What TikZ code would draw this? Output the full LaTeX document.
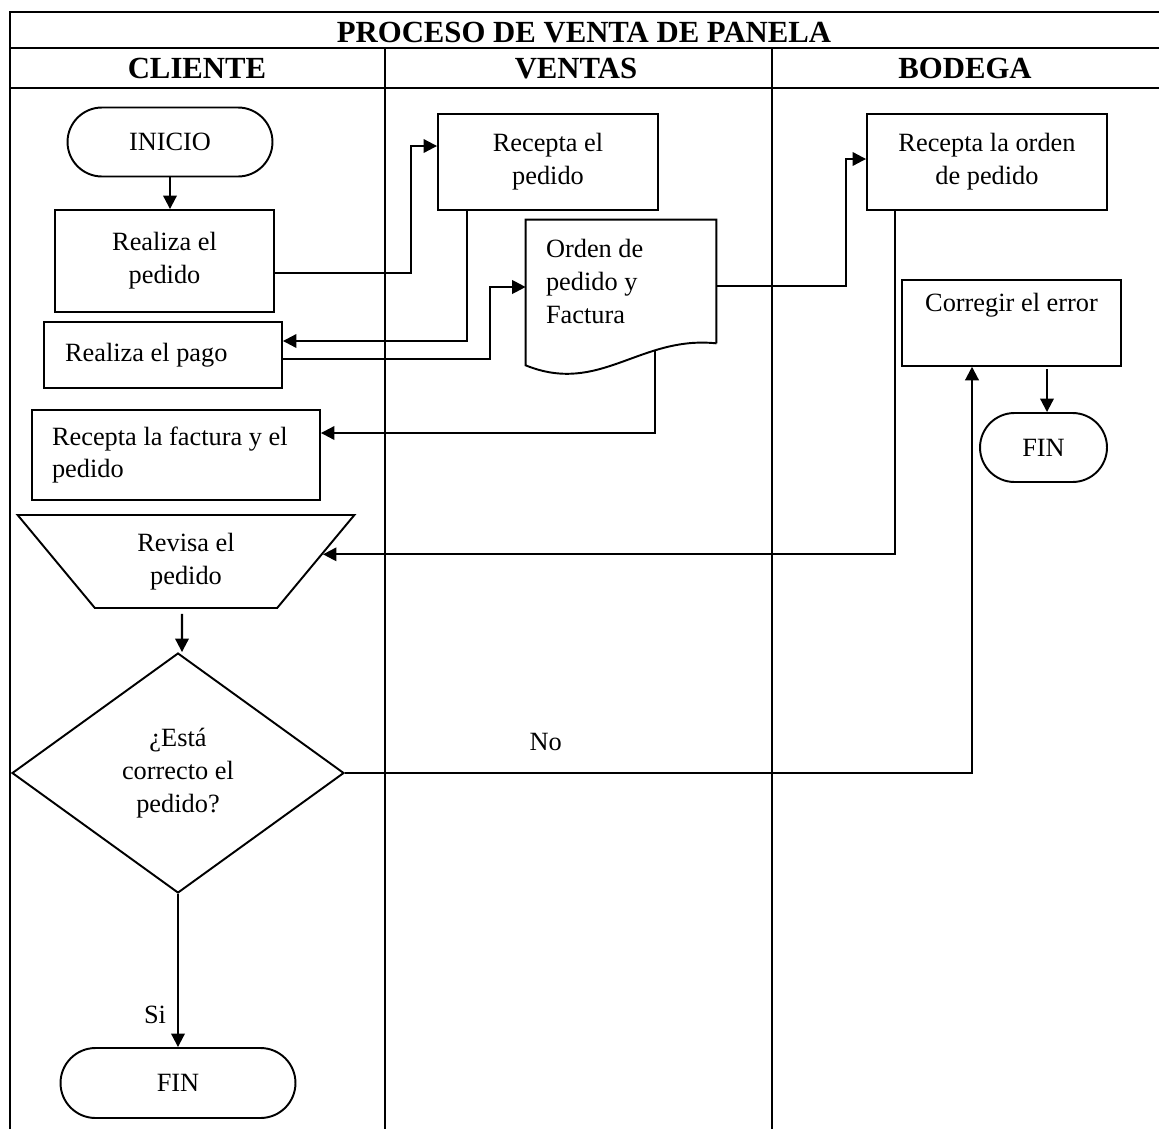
\documentclass[tikz,border=0pt]{standalone}
\usepackage{fontspec}
\setmainfont{Liberation Serif}
\usepackage{tikz}
\usetikzlibrary{shapes.geometric, shapes.misc, arrows.meta, calc}

\begin{document}
\begin{tikzpicture}[x=0.02cm, y=-0.02cm, font=\fontsize{15}{18.7}\selectfont,
    frame/.style={line width=1.3pt},
    lane/.style={line width=0.8pt},
    head/.style={anchor=base, font=\fontsize{17.5}{20}\selectfont\bfseries},
    term/.style={draw, line width=1.1pt, rounded rectangle, minimum height=1.38cm, inner sep=0pt},
    proc/.style={draw, line width=1.1pt, align=center, inner sep=0pt},
    procl/.style={draw, line width=1.1pt, align=flush left, inner xsep=0.4cm, inner ysep=0pt},
    doctext/.style={align=flush left, inner xsep=0.4cm, inner ysep=0pt, text width=3.0cm,
        minimum width=3.8cm, minimum height=2.46cm},
    manual/.style={draw, line width=1.1pt, trapezium, trapezium angle=54, shape border rotate=180,
        trapezium stretches=true, minimum width=6.74cm, minimum height=1.86cm, align=center, inner sep=0pt},
    decision/.style={draw, line width=1.1pt, diamond, minimum width=6.64cm, minimum height=4.8cm,
        align=center, inner sep=0pt},
    arrow/.style={-{Triangle[length=0.27cm,width=0.27cm]}, line width=1.2pt},
    link/.style={line width=1.2pt}
]
\useasboundingbox (0,0) rectangle (1159,1129);
% table
\draw[frame] (10,1129) -- (10,12) -- (1159,12);
\draw[frame] (10,48) -- (1159,48);
\draw[frame] (10,88) -- (1159,88);
\draw[lane] (385,48) -- (385,1129);
\draw[lane] (772,48) -- (772,1129);
\node[head] (title) at (584,42) {PROCESO DE VENTA DE PANELA};
\node[head] (hcli) at (197,78) {CLIENTE};
\node[head] (hven) at (576,78) {VENTAS};
\node[head] (hbod) at (965,78) {BODEGA};
% cliente
\node[term, minimum width=4.1cm] (ini) at (170,142) {INICIO};
\node[proc, minimum width=4.38cm, minimum height=2.04cm] (rp) at (164.5,261) {Realiza el\\pedido};
\node[procl, text width=3.92cm, inner xsep=0.42cm, minimum height=1.32cm] (pago) at (163,355) {Realiza el pago};
\node[procl, text width=4.96cm, minimum height=1.8cm] (fac) at (176,455) {Recepta la factura y el\\pedido};
\node[manual] (rev) at (186,561.5) {Revisa el\\pedido};
\node[decision] (chk) at (178,773) {¿Está\\correcto el\\pedido?};
\node[term, minimum width=4.7cm, minimum height=1.4cm] (fin1) at (178,1083) {FIN};
% ventas
\node[proc, minimum width=4.4cm, minimum height=1.92cm] (rcv) at (548,162) {Recepta el\\pedido};
\node[doctext] (doc) at (621,281.5) {Orden de\\pedido y\\Factura};
\draw[line width=1.1pt] (doc.south east) -- (doc.north east) -- (doc.north west) -- ($(doc.south west)+(0,22)$)
    .. controls ($(doc.south west)+(74,52)$) and ($(doc.south west)+(114,-8)$) .. (doc.south east)
    coordinate[pos=0.7] (docw);
% bodega
\node[proc, minimum width=4.8cm, minimum height=1.92cm] (rord) at (987,162) {Recepta la orden\\de pedido};
\node[proc, minimum width=4.38cm, text height=18pt, text depth=30.7pt] (corr) at (1011.5,323) {Corregir el error};
\node[term, minimum width=2.54cm] (fin2) at (1043.5,447.5) {FIN};
% arrows
\draw[arrow] (ini.south) -- (ini.south |- rp.north);
\draw[arrow] ($(rp.east)+(0,12)$) -| ($(rcv.west)+(-26,-16)$) -- ($(rcv.west)+(0,-16)$);
\draw[arrow] ($(rcv.south west)+(30,0)$) |- ($(pago.east)+(0,-14)$);
\draw[arrow] ($(pago.east)+(0,4)$) -| ($(doc.west)+(-36,5.5)$) -- ($(doc.west)+(0,5.5)$);
\draw[arrow] ($(doc.east)+(0,4.5)$) -| ($(rord.west)+(-20,-3)$) -- ($(rord.west)+(0,-3)$);
\draw[arrow] (docw) |- ($(fac.east)+(0,-22)$);
\draw[arrow] ($(rord.south west)+(29,0)$) |- (rev.3.5);
\draw[arrow] ($(rev.south)+(-4,5)$) -- ($(chk.north)+(4,0)$);
\draw[arrow] (chk.east) -| ($(corr.south)+(-39.5,0)$) node[pos=0.16, yshift=0.62cm] {No};
\draw[arrow] ($(corr.south)+(35.5,2)$) -- ($(fin2.north)+(3.5,0)$);
\draw[arrow] (chk.south) -- (fin1.north) node[pos=0.79, xshift=-0.46cm] {Si};
\end{tikzpicture}
\end{document}
